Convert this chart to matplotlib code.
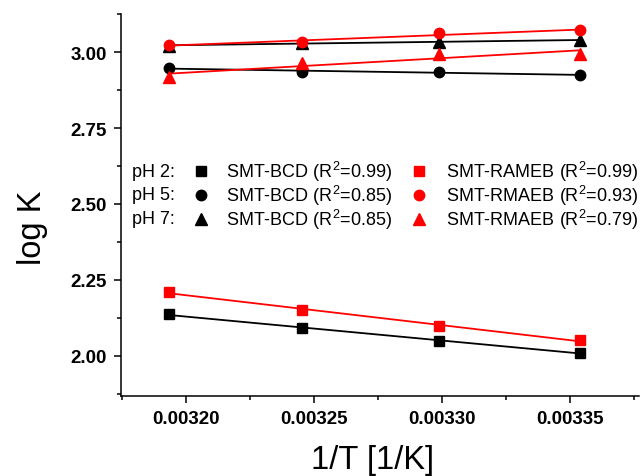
import numpy as np
import matplotlib
matplotlib.use('Agg')
import matplotlib.pyplot as plt
from matplotlib.ticker import MultipleLocator, FormatStrFormatter

plt.rcParams['font.family'] = ['Liberation Sans', 'DejaVu Sans']
plt.rcParams['mathtext.fontset'] = 'custom'
plt.rcParams['mathtext.rm'] = 'Liberation Sans'
plt.rcParams['mathtext.it'] = 'Liberation Sans:italic'

# temperatures (K) -> x = 1/T
temps = [313.15, 308.15, 303.15, 298.15]
inv_t = [1.0 / t for t in temps]

# log K values
bcd_ph2 = [2.137, 2.090, 2.048, 2.010]
rameb_ph2 = [2.209, 2.151, 2.099, 2.050]
bcd_ph5 = [2.949, 2.934, 2.934, 2.926]
rmaeb_ph5 = [3.023, 3.034, 3.063, 3.072]
bcd_ph7 = [3.022, 3.030, 3.034, 3.040]
rmaeb_ph7 = [2.918, 2.964, 2.994, 2.994]

ph_labels = ['pH 2:', 'pH 5:', 'pH 7:']
bcd_labels = ['SMT-BCD (R$^2$=0.99)', 'SMT-BCD (R$^2$=0.85)', 'SMT-BCD (R$^2$=0.85)']
red_labels = ['SMT-RAMEB (R$^2$=0.99)', 'SMT-RMAEB (R$^2$=0.93)', 'SMT-RMAEB (R$^2$=0.79)']
markers = ['s', 'o', '^']
msizes = [7.5, 7.5, 8]

W, H = 641, 477
fig = plt.figure(figsize=(W / 100, H / 100), dpi=100)
ax = fig.add_axes([121 / W, (H - 397) / H, 518 / W, 382 / H])

x = np.array(inv_t)
black = [bcd_ph2, bcd_ph5, bcd_ph7]
red = [rameb_ph2, rmaeb_ph5, rmaeb_ph7]

for series, color in [(black, 'black'), (red, 'red')]:
    for ys, m, ms in zip(series, markers, msizes):
        ys = np.array(ys)
        k, b = np.polyfit(x, ys, 1)
        ax.plot(x, k * x + b, '-', color=color, lw=1.3)
        ax.plot(x, ys, m, color=color, ms=ms, mec=color)

ax.set_xlim(0.0031746, 0.0033770)
ax.set_ylim(1.867, 3.126)

ax.spines['top'].set_visible(False)
ax.spines['right'].set_visible(False)
for s in ['left', 'bottom']:
    ax.spines[s].set_linewidth(1.1)

ax.xaxis.set_major_locator(MultipleLocator(0.00005))
ax.xaxis.set_minor_locator(MultipleLocator(0.000025))
ax.xaxis.set_major_formatter(FormatStrFormatter('%.5f'))
ax.yaxis.set_major_locator(MultipleLocator(0.25))
ax.yaxis.set_minor_locator(MultipleLocator(0.125))
ax.yaxis.set_major_formatter(FormatStrFormatter('%.2f'))
ax.tick_params(which='major', direction='out', length=5, width=1.1, pad=5)
ax.tick_params(which='minor', direction='out', length=3, width=1.1)
for lbl in ax.get_xticklabels() + ax.get_yticklabels():
    lbl.set_fontsize(13.5)
    lbl.set_fontweight('bold')

ax.set_xlabel('1/T [1/K]', fontsize=23.5)
ax.set_ylabel('log K', fontsize=23.5)
ax.xaxis.set_label_coords((373 - 121) / 518, (397 - 461) / 382)
ax.xaxis.label.set_va('center')
ax.yaxis.set_label_coords((33 - 121) / 518, (397 - 228) / 382)
ax.yaxis.label.set_va('center')

# legend block drawn by hand
rows_y = [172.3, 196, 220]
for i, yy in enumerate(rows_y):
    fy = 1 - yy / H
    fig.text(132 / W, fy, ph_labels[i], fontsize=13, ha='left', va='center')
    fig.lines.append(plt.Line2D([201 / W], [fy], marker=markers[i], color='black',
                                ms=msizes[i], transform=fig.transFigure, ls='none'))
    fig.text(226 / W, fy, bcd_labels[i], fontsize=13, ha='left', va='center')
    fig.lines.append(plt.Line2D([419 / W], [fy], marker=markers[i], color='red',
                                ms=msizes[i], transform=fig.transFigure, ls='none'))
    fig.text(446 / W, fy, red_labels[i], fontsize=13, ha='left', va='center')

fig.savefig('out.png', dpi=100)
